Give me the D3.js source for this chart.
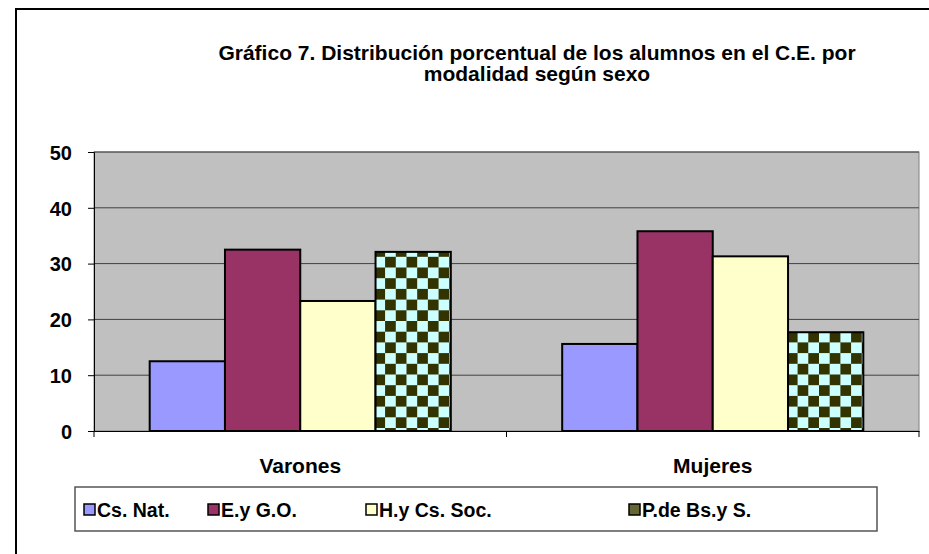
<!DOCTYPE html>
<html lang="es">
<head>
<meta charset="UTF-8">
<title>Gráfico 7</title>
<script src="https://d3js.org/d3.v7.min.js"></script>
<style>
    body { margin: 0; background: #fff; }
    text { font-family: "Liberation Sans", Arial, sans-serif; font-weight: bold; fill: #000; }
</style>
</head>
<body>
<script>
    const categories = ['Varones', 'Mujeres'];
    const series = ['Cs. Nat.', 'E.y G.O.', 'H.y Cs. Soc.', 'P.de Bs.y S.'];
    const varones = [12.5, 32.5, 23.3, 32.1];
    const mujeres = [15.6, 35.8, 31.3, 17.7];
    const yTicks = [0, 10, 20, 30, 40, 50];
    const colors = ['#9999ff', '#993366', '#ffffcc', 'url(#checker)'];

    const values = [varones, mujeres];
    const width = 929, height = 554;
    const plot = { left: 94, right: 919, top: 152, bottom: 431 };

    const svg = d3.select('body').append('svg')
        .attr('width', width)
        .attr('height', height);

    // checker pattern for the last series
    const defs = svg.append('defs');
    const pat = defs.append('pattern')
        .attr('id', 'checker')
        .attr('patternUnits', 'userSpaceOnUse')
        .attr('width', 21.4).attr('height', 21.4);
    pat.append('rect').attr('width', 21.4).attr('height', 21.4).attr('fill', '#ccffff');
    pat.append('rect').attr('width', 10.7).attr('height', 10.7).attr('fill', '#333300');
    pat.append('rect').attr('x', 10.7).attr('y', 10.7).attr('width', 10.7).attr('height', 10.7).attr('fill', '#333300');

    // outer frame
    svg.append('rect')
        .attr('x', 16).attr('y', 9)
        .attr('width', 940).attr('height', 570)
        .attr('fill', 'none')
        .attr('stroke', '#000')
        .attr('stroke-width', 2);

    // title
    const title = svg.append('text')
        .attr('text-anchor', 'middle')
        .style('font-size', '21px');
    title.append('tspan').attr('x', 537).attr('y', 60)
        .text('Gráfico 7. Distribución porcentual de los alumnos en el C.E. por');
    title.append('tspan').attr('x', 537).attr('y', 81)
        .text('modalidad según sexo');

    const x0 = d3.scaleBand()
        .domain(categories)
        .range([plot.left, plot.right]);

    const x1 = d3.scaleBand()
        .domain(series)
        .range([0, x0.bandwidth() * 0.73]);

    const y = d3.scaleLinear()
        .domain([0, 50])
        .range([plot.bottom, plot.top]);

    // plot area
    svg.append('rect')
        .attr('x', plot.left).attr('y', plot.top)
        .attr('width', plot.right - plot.left)
        .attr('height', plot.bottom - plot.top)
        .attr('fill', '#c0c0c0')
        .attr('stroke', '#808080')
        .attr('stroke-width', 1);

    // gridlines
    svg.append('g')
        .selectAll('line')
        .data(yTicks.filter(d => d > 0))
        .enter().append('line')
        .attr('x1', plot.left).attr('x2', plot.right)
        .attr('y1', d => y(d)).attr('y2', d => y(d))
        .attr('stroke', '#404040')
        .attr('stroke-width', 1);

    // y axis
    const yAxis = svg.append('g')
        .attr('transform', `translate(${plot.left},0)`)
        .call(d3.axisLeft(y).tickValues(yTicks).tickSize(6).tickPadding(16));
    yAxis.select('.domain').attr('stroke', '#000');
    yAxis.selectAll('.tick line').attr('stroke', '#000');
    yAxis.selectAll('text')
        .style('font-size', '20px')
        .style('font-family', '"Liberation Sans", Arial, sans-serif')
        .style('font-weight', 'bold')
        .attr('dy', '0.36em')
        .attr('fill', '#000');

    // x axis
    const xAxis = svg.append('g')
        .attr('transform', `translate(0,${plot.bottom})`)
        .call(d3.axisBottom(x0).tickSize(0).tickPadding(27));
    xAxis.select('.domain').attr('stroke', '#000');
    xAxis.selectAll('text')
        .style('font-size', '21px')
        .style('font-family', '"Liberation Sans", Arial, sans-serif')
        .style('font-weight', 'bold')
        .attr('y', 42).attr('dy', 0)
        .attr('fill', '#000');
    // category separators
    svg.append('g')
        .selectAll('line')
        .data([plot.left, x0('Mujeres'), plot.right])
        .enter().append('line')
        .attr('x1', d => d).attr('x2', d => d)
        .attr('y1', plot.bottom).attr('y2', plot.bottom + 6)
        .attr('stroke', '#000');

    // bars
    const groups = svg.append('g')
        .selectAll('g')
        .data(categories)
        .enter().append('g')
        .attr('transform', c => `translate(${x0(c) + (x0.bandwidth() - x1.range()[1]) / 2},0)`);

    groups.selectAll('rect')
        .data((c, i) => series.map((s, j) => ({ s, v: values[i][j], j })))
        .enter().append('rect')
        .attr('x', d => x1(d.s))
        .attr('y', d => y(d.v))
        .attr('width', x1.bandwidth())
        .attr('height', d => y(0) - y(d.v))
        .attr('fill', d => colors[d.j])
        .attr('stroke', '#000')
        .attr('stroke-width', 2);

    // legend
    svg.append('rect')
        .attr('x', 75).attr('y', 487)
        .attr('width', 802).attr('height', 44)
        .attr('fill', '#fff')
        .attr('stroke', '#555')
        .attr('stroke-width', 1.5);

    const legendX = [84, 208, 366, 629];
    const legend = svg.append('g')
        .selectAll('g')
        .data(series)
        .enter().append('g')
        .attr('transform', (d, i) => `translate(${legendX[i]},509)`);
    legend.append('rect')
        .attr('x', 0).attr('y', -5)
        .attr('width', 11).attr('height', 11)
        .attr('fill', (d, i) => i === 3 ? '#666633' : colors[i])
        .attr('stroke', '#000')
        .attr('stroke-width', 1.5);
    legend.append('text')
        .attr('x', 13).attr('y', 8)
        .style('font-size', '19.5px')
        .text(d => d);
</script>
</body>
</html>
